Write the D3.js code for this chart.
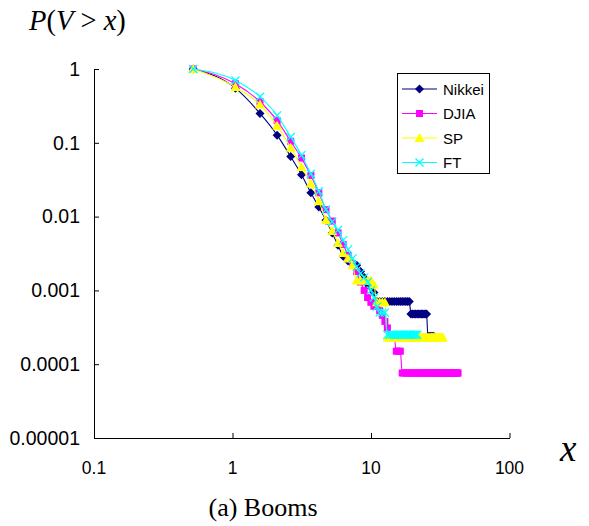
<!DOCTYPE html>
<html><head><meta charset="utf-8">
<script src="https://cdn.jsdelivr.net/npm/d3@7"></script>
<style>body{margin:0;background:#fff}svg{display:block}</style>
</head><body>
<svg id="c" width="589" height="526"></svg>
<script>
// x positions of the threshold grid
const xGrid = [0.52,1.05,1.58,2.1,2.63,3.15,3.68,4.2,4.73,5.25,5.78,6.3,6.83,7.35,7.88,8.4,8.93,9.45,9.98,10.5,
  11.03,11.55,12.08,12.6,13.13,13.65,14.18,14.7,15.23,15.75,16.28,16.8,17.33,17.85,18.38,18.9,19.43,19.95,20.48,21,
  21.53,22.05,22.58,23.1,23.63,24.15,24.68,25.2,25.73,26.25,26.78,27.3,27.83,28.35,28.88,29.4,29.93,30.45,30.98,31.5,
  32.03,32.55,33.08,33.6,34.13,34.65,35.18,35.7,36.23,36.75,37.28,37.8,38.33,38.85,39.38,39.9,40.43,40.95,41.48,42,42.53];

const nikkei = [1,0.55,0.25,0.127,0.065,0.037,0.021,0.0135,0.0089,0.006,0.0041,0.0029,0.0025,0.0023,0.0022,0.0018,0.0015,0.0012,0.0011,0.00094,
  0.00071,0.00071,0.00071,0.00071,0.00071,0.00071,0.00071,0.00071,0.00071,0.00071,0.00071,0.00071,0.00071,0.00071,0.00071,0.00071,
  0.00048,0.00048,0.00048,0.00048,0.00048,0.00048,0.00048,0.00048,0.00048,0.00048,0.00048,0.00048,
  0.00024,0.00024,0.00024,0.00024,0.00024,0.00024];
const djia = [1,0.63,0.36,0.2,0.105,0.062,0.036,0.021,0.0124,0.0087,0.006,0.0042,0.003,0.0023,0.0018,0.0013,0.001,0.0008,0.00069,0.00061,
  0.00061,0.00053,0.00046,0.00038,0.00031,0.00023,0.00023,0.00023,0.00015,0.00015,0.00015,
  0.000076,0.000076,0.000076,0.000076,0.000076,0.000076,0.000076,0.000076,0.000076,0.000076,
  0.000076,0.000076,0.000076,0.000076,0.000076,0.000076,0.000076,0.000076,0.000076,0.000076,
  0.000076,0.000076,0.000076,0.000076,0.000076,0.000076,0.000076,0.000076,0.000076,0.000076,
  0.000076,0.000076,0.000076,0.000076,0.000076,0.000076,0.000076,0.000076,0.000076,0.000076,
  0.000076,0.000076,0.000076,0.000076,0.000076,0.000076,0.000076,0.000076,0.000076,0.000076];
const sp = [1,0.57,0.33,0.17,0.086,0.047,0.028,0.0162,0.009,0.0064,0.0044,0.0032,0.0027,0.0022,
  0.00136,0.00136,0.00136,0.00136,0.00136,0.0012,0.00069,0.00069,0.00069,0.00069,
  0.00023,0.00023,0.00023,0.00023,0.00023,0.00023,0.00023,0.00023,0.00023,0.00023,
  0.00023,0.00023,0.00023,0.00023,0.00023,0.00023,0.00023,0.00023,0.00023,0.00023,
  0.00023,0.00023,0.00023,0.00023,0.00023,0.00023,0.00023,0.00023,0.00023,0.00023,
  0.00023,0.00023,0.00023,0.00023,0.00023,0.00023,0.00023,0.00023,0.00023];
const ft = [1,0.70,0.42,0.235,0.12,0.068,0.038,0.022,0.0125,0.0085,0.0066,0.0048,0.0036,0.0027,0.0021,0.0017,0.0015,0.0013,0.001,0.0008,
  0.0006,0.0005,0.0005,0.0005,
  0.00025,0.00025,0.00025,0.00025,0.00025,0.00025,0.00025,0.00025,0.00025,0.00025,0.00025,0.00025,0.00025,0.00025,0.00025,0.00025,0.00025];

const seriesNames = ["Nikkei","DJIA","SP","FT"];
const seriesColors = ["#000080","#FF00FF","#FFFF00","#00FFFF"];
const xTicks = [0.1,1,10,100];
const xTickLabels = ["0.1","1","10","100"];
const yTicks = [1,0.1,0.01,0.001,0.0001,0.00001];
const yTickLabels = ["1","0.1","0.01","0.001","0.0001","0.00001"];

const svg = d3.select("#c");
const x = d3.scaleLog().domain([0.1,100]).range([94,509.5]);
const y = d3.scaleLog().domain([0.00001,1]).range([438,69]);

// axes (inside ticks)
const gx = svg.append("g").attr("transform","translate(0,438)")
  .call(d3.axisTop(x).tickValues(xTicks).tickFormat("").tickSizeInner(5).tickSizeOuter(0));
gx.selectAll("path,line").attr("stroke","#000");
const gy = svg.append("g").attr("transform","translate(94,0)")
  .call(d3.axisRight(y).tickValues(yTicks).tickFormat("").tickSizeInner(5).tickSizeOuter(0));
gy.selectAll("path,line").attr("stroke","#000");

svg.append("g").selectAll("text").data(xTicks).join("text")
  .attr("x",d=>x(d)).attr("y",473.5).attr("text-anchor","middle")
  .attr("font-family","Liberation Sans, Arial, sans-serif").attr("font-size",17.5)
  .text((d,i)=>xTickLabels[i]);
svg.append("g").selectAll("text").data(yTicks).join("text")
  .attr("x",80).attr("y",d=>y(d)+6.8).attr("text-anchor","end")
  .attr("font-family","Liberation Sans, Arial, sans-serif").attr("font-size",19.5)
  .text((d,i)=>yTickLabels[i]);

// titles
const t1 = svg.append("text").attr("x",29).attr("y",30)
  .attr("font-family","Liberation Serif, Times New Roman, serif").attr("font-size",28.5);
t1.append("tspan").attr("font-style","italic").text("P");
t1.append("tspan").text("(");
t1.append("tspan").attr("font-style","italic").text("V");
t1.append("tspan").text(" > ");
t1.append("tspan").attr("font-style","italic").text("x");
t1.append("tspan").text(")");
svg.append("text").attr("x",560).attr("y",461)
  .attr("font-family","Liberation Serif, Times New Roman, serif").attr("font-size",37)
  .attr("font-style","italic").text("x");
svg.append("text").attr("x",263).attr("y",516).attr("text-anchor","middle")
  .attr("font-family","Liberation Serif, Times New Roman, serif").attr("font-size",26)
  .text("(a) Booms");

// markers
function drawMarker(g, i, cx, cy){
  const c = seriesColors[i];
  if(i===0){
    g.append("path").attr("d",`M${cx},${cy-4.5}L${cx+4.5},${cy}L${cx},${cy+4.5}L${cx-4.5},${cy}Z`).attr("fill",c);
  } else if(i===1){
    g.append("rect").attr("x",cx-3.5).attr("y",cy-3.5).attr("width",7).attr("height",7).attr("fill",c);
  } else if(i===2){
    g.append("path").attr("d",`M${cx},${cy-5}L${cx+5},${cy+4}L${cx-5},${cy+4}Z`).attr("fill",c);
  } else {
    g.append("path").attr("d",`M${cx-4},${cy-4}L${cx+4},${cy+4}M${cx-4},${cy+4}L${cx+4},${cy-4}`)
      .attr("stroke",c).attr("stroke-width",1.3).attr("fill","none");
  }
}

const allSeries = [nikkei, djia, sp, ft];
const line = d3.line().x(d=>x(d[0])).y(d=>y(d[1])).curve(d3.curveMonotoneX);
allSeries.forEach((vals,i)=>{
  const pts = vals.map((v,k)=>[xGrid[k], v]);
  const g = svg.append("g");
  g.append("path").attr("d",line(pts)).attr("fill","none").attr("stroke",seriesColors[i]).attr("stroke-width",1.1);
  pts.forEach(p=>drawMarker(g,i,x(p[0]),y(p[1])));
});

// legend
const lg = svg.append("g");
lg.append("rect").attr("x",397.5).attr("y",73.5).attr("width",92).attr("height",100)
  .attr("fill","#fff").attr("stroke","#000").attr("stroke-width",1);
const rowY = [89,113.5,138,162.5];
seriesNames.forEach((n,i)=>{
  lg.append("line").attr("x1",402).attr("x2",437).attr("y1",rowY[i]).attr("y2",rowY[i])
    .attr("stroke",seriesColors[i]).attr("stroke-width",1.2);
  drawMarker(lg,i,419.5,rowY[i]);
  lg.append("text").attr("x",443).attr("y",rowY[i]+5.5)
    .attr("font-family","Liberation Sans, Arial, sans-serif").attr("font-size",15).text(n);
});
</script>
</body></html>
